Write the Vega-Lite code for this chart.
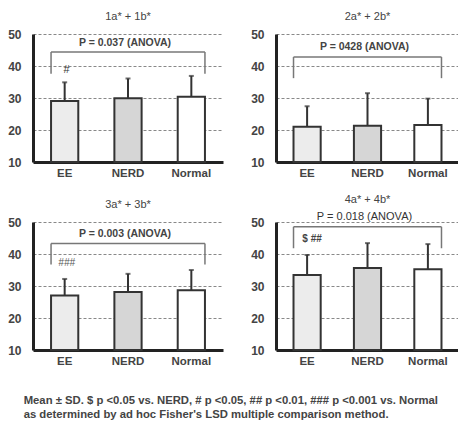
{
  "$schema": "https://vega.github.io/schema/vega-lite/v6.json",
  "padding": {"left": 7, "top": 11, "right": 0, "bottom": 0},
  "background": "white",
  "title": {
    "text": ["Mean ± SD.  $ p <0.05 vs. NERD, # p <0.05, ## p <0.01, ### p <0.001 vs. Normal", "as determined by ad hoc Fisher's LSD multiple comparison method."],
    "orient": "bottom", "anchor": "start", "fontSize": 11.3, "fontWeight": "bold", "font": "Liberation Sans", "color": "#444", "offset": 28, "dx": 16, "lineHeight": 14
  },
  "datasets": {
    "bars": [
      {"panel": 1, "group": "EE", "mean": 29.1, "upper": 34.9},
      {"panel": 1, "group": "NERD", "mean": 29.9, "upper": 36.1},
      {"panel": 1, "group": "Normal", "mean": 30.4, "upper": 36.9},
      {"panel": 2, "group": "EE", "mean": 21.0, "upper": 27.4},
      {"panel": 2, "group": "NERD", "mean": 21.3, "upper": 31.5},
      {"panel": 2, "group": "Normal", "mean": 21.6, "upper": 29.8},
      {"panel": 3, "group": "EE", "mean": 27.0, "upper": 32.2},
      {"panel": 3, "group": "NERD", "mean": 28.1, "upper": 33.8},
      {"panel": 3, "group": "Normal", "mean": 28.7, "upper": 35.0},
      {"panel": 4, "group": "EE", "mean": 33.4, "upper": 39.7},
      {"panel": 4, "group": "NERD", "mean": 35.6, "upper": 43.4},
      {"panel": 4, "group": "Normal", "mean": 35.2, "upper": 43.1}
    ],
    "brackets": [
      {"panel": 1, "left": "EE", "mid": "NERD", "right": "Normal", "top": 44.4, "bottom": 37.6, "label": "P = 0.037 (ANOVA)", "labelY": 47.2},
      {"panel": 2, "left": "EE", "mid": "NERD", "right": "Normal", "top": 42.8, "bottom": 36.2, "label": "P = 0428 (ANOVA)", "labelY": 45.9},
      {"panel": 3, "left": "EE", "mid": "NERD", "right": "Normal", "top": 43.3, "bottom": 36.7, "label": "P = 0.003 (ANOVA)", "labelY": 46.1},
      {"panel": 4, "left": "EE", "mid": "NERD", "right": "Normal", "top": 48.5, "bottom": 41.8, "label": "P = 0.018 (ANOVA)", "labelY": 51.6}
    ],
    "sig": [
      {"panel": 1, "group": "EE", "mark": "#", "y": 38.6},
      {"panel": 3, "group": "EE", "mark": "###", "y": 37.2},
      {"panel": 4, "group": "EE", "mark": "$ ##", "y": 44.7}
    ]
  },
  "spacing": 14,
  "vconcat": [
    {
      "spacing": 27,
      "hconcat": [
        {
          "width": 190, "height": 128,
          "title": "1a* + 1b*",
          "layer": [
            {"data": {"name": "bars"}, "transform": [{"filter": "datum.panel == 1"}],
             "mark": {"type": "bar", "stroke": "#333", "strokeWidth": 2},
             "encoding": {
               "x": {"field": "group", "type": "nominal", "sort": null, "scale": {"domain": ["EE", "NERD", "Normal"], "paddingInner": 0.57, "paddingOuter": 0.285}, "axis": {"title": null}},
               "y": {"field": "mean", "type": "quantitative", "scale": {"domain": [10, 50], "nice": false, "zero": false}, "axis": {"title": null}},
               "y2": {"datum": 10},
               "fill": {"field": "group", "type": "nominal", "scale": {"domain": ["EE", "NERD", "Normal"], "range": ["#ececec", "#d6d6d6", "#ffffff"]}, "legend": null}
             }},
            {"data": {"name": "bars"}, "transform": [{"filter": "datum.panel == 1"}],
             "mark": {"type": "rule", "color": "#333", "strokeWidth": 2},
             "encoding": {"x": {"field": "group", "type": "nominal"}, "y": {"field": "mean", "type": "quantitative"}, "y2": {"field": "upper"}}},
            {"data": {"name": "bars"}, "transform": [{"filter": "datum.panel == 1"}],
             "mark": {"type": "tick", "color": "#333", "thickness": 2, "size": 5, "orient": "horizontal"},
             "encoding": {"x": {"field": "group", "type": "nominal"}, "y": {"field": "upper", "type": "quantitative"}}},
            {"data": {"name": "brackets"}, "transform": [{"filter": "datum.panel == 1"}],
             "mark": {"type": "rule", "color": "#777", "strokeWidth": 1.5},
             "encoding": {"x": {"field": "left", "type": "nominal", "bandPosition": 0}, "x2": {"field": "right", "bandPosition": 1}, "y": {"field": "top", "type": "quantitative"}}},
            {"data": {"name": "brackets"}, "transform": [{"filter": "datum.panel == 1"}],
             "mark": {"type": "rule", "color": "#777", "strokeWidth": 1.5},
             "encoding": {"x": {"field": "left", "type": "nominal", "bandPosition": 0}, "y": {"field": "top", "type": "quantitative"}, "y2": {"field": "bottom"}}},
            {"data": {"name": "brackets"}, "transform": [{"filter": "datum.panel == 1"}],
             "mark": {"type": "rule", "color": "#777", "strokeWidth": 1.5},
             "encoding": {"x": {"field": "right", "type": "nominal", "bandPosition": 1}, "y": {"field": "top", "type": "quantitative"}, "y2": {"field": "bottom"}}},
            {"data": {"name": "brackets"}, "transform": [{"filter": "datum.panel == 1"}],
             "mark": {"type": "text", "font": "Liberation Sans", "fontWeight": "bold", "fontSize": 10.5, "color": "#444", "dx": -3},
             "encoding": {"x": {"field": "mid", "type": "nominal"}, "y": {"field": "labelY", "type": "quantitative"}, "text": {"field": "label"}}},
            {"data": {"name": "sig"}, "transform": [{"filter": "datum.panel == 1"}],
             "mark": {"type": "text", "font": "Liberation Sans", "fontSize": 11, "color": "#333", "dx": 2},
             "encoding": {"x": {"field": "group", "type": "nominal"}, "y": {"field": "y", "type": "quantitative"}, "text": {"field": "mark"}}}
          ]
        },
        {
          "width": 183, "height": 128,
          "title": "2a* + 2b*",
          "layer": [
            {"data": {"name": "bars"}, "transform": [{"filter": "datum.panel == 2"}],
             "mark": {"type": "bar", "stroke": "#333", "strokeWidth": 2},
             "encoding": {
               "x": {"field": "group", "type": "nominal", "sort": null, "scale": {"domain": ["EE", "NERD", "Normal"], "paddingInner": 0.55, "paddingOuter": 0.29}, "axis": {"title": null}},
               "y": {"field": "mean", "type": "quantitative", "scale": {"domain": [10, 50], "nice": false, "zero": false}, "axis": {"title": null}},
               "y2": {"datum": 10},
               "fill": {"field": "group", "type": "nominal", "scale": {"domain": ["EE", "NERD", "Normal"], "range": ["#ececec", "#d6d6d6", "#ffffff"]}, "legend": null}
             }},
            {"data": {"name": "bars"}, "transform": [{"filter": "datum.panel == 2"}],
             "mark": {"type": "rule", "color": "#333", "strokeWidth": 2},
             "encoding": {"x": {"field": "group", "type": "nominal"}, "y": {"field": "mean", "type": "quantitative"}, "y2": {"field": "upper"}}},
            {"data": {"name": "bars"}, "transform": [{"filter": "datum.panel == 2"}],
             "mark": {"type": "tick", "color": "#333", "thickness": 2, "size": 5, "orient": "horizontal"},
             "encoding": {"x": {"field": "group", "type": "nominal"}, "y": {"field": "upper", "type": "quantitative"}}},
            {"data": {"name": "brackets"}, "transform": [{"filter": "datum.panel == 2"}],
             "mark": {"type": "rule", "color": "#777", "strokeWidth": 1.5},
             "encoding": {"x": {"field": "left", "type": "nominal", "bandPosition": 0}, "x2": {"field": "right", "bandPosition": 1}, "y": {"field": "top", "type": "quantitative"}}},
            {"data": {"name": "brackets"}, "transform": [{"filter": "datum.panel == 2"}],
             "mark": {"type": "rule", "color": "#777", "strokeWidth": 1.5},
             "encoding": {"x": {"field": "left", "type": "nominal", "bandPosition": 0}, "y": {"field": "top", "type": "quantitative"}, "y2": {"field": "bottom"}}},
            {"data": {"name": "brackets"}, "transform": [{"filter": "datum.panel == 2"}],
             "mark": {"type": "rule", "color": "#777", "strokeWidth": 1.5},
             "encoding": {"x": {"field": "right", "type": "nominal", "bandPosition": 1}, "y": {"field": "top", "type": "quantitative"}, "y2": {"field": "bottom"}}},
            {"data": {"name": "brackets"}, "transform": [{"filter": "datum.panel == 2"}],
             "mark": {"type": "text", "font": "Liberation Sans", "fontWeight": "bold", "fontSize": 10.5, "color": "#444", "dx": -3},
             "encoding": {"x": {"field": "mid", "type": "nominal"}, "y": {"field": "labelY", "type": "quantitative"}, "text": {"field": "label"}}}
          ]
        }
      ]
    },
    {
      "spacing": 27,
      "hconcat": [
        {
          "width": 190, "height": 128,
          "title": "3a* + 3b*",
          "layer": [
            {"data": {"name": "bars"}, "transform": [{"filter": "datum.panel == 3"}],
             "mark": {"type": "bar", "stroke": "#333", "strokeWidth": 2},
             "encoding": {
               "x": {"field": "group", "type": "nominal", "sort": null, "scale": {"domain": ["EE", "NERD", "Normal"], "paddingInner": 0.57, "paddingOuter": 0.285}, "axis": {"title": null}},
               "y": {"field": "mean", "type": "quantitative", "scale": {"domain": [10, 50], "nice": false, "zero": false}, "axis": {"title": null}},
               "y2": {"datum": 10},
               "fill": {"field": "group", "type": "nominal", "scale": {"domain": ["EE", "NERD", "Normal"], "range": ["#ececec", "#d6d6d6", "#ffffff"]}, "legend": null}
             }},
            {"data": {"name": "bars"}, "transform": [{"filter": "datum.panel == 3"}],
             "mark": {"type": "rule", "color": "#333", "strokeWidth": 2},
             "encoding": {"x": {"field": "group", "type": "nominal"}, "y": {"field": "mean", "type": "quantitative"}, "y2": {"field": "upper"}}},
            {"data": {"name": "bars"}, "transform": [{"filter": "datum.panel == 3"}],
             "mark": {"type": "tick", "color": "#333", "thickness": 2, "size": 5, "orient": "horizontal"},
             "encoding": {"x": {"field": "group", "type": "nominal"}, "y": {"field": "upper", "type": "quantitative"}}},
            {"data": {"name": "brackets"}, "transform": [{"filter": "datum.panel == 3"}],
             "mark": {"type": "rule", "color": "#777", "strokeWidth": 1.5},
             "encoding": {"x": {"field": "left", "type": "nominal", "bandPosition": 0}, "x2": {"field": "right", "bandPosition": 1}, "y": {"field": "top", "type": "quantitative"}}},
            {"data": {"name": "brackets"}, "transform": [{"filter": "datum.panel == 3"}],
             "mark": {"type": "rule", "color": "#777", "strokeWidth": 1.5},
             "encoding": {"x": {"field": "left", "type": "nominal", "bandPosition": 0}, "y": {"field": "top", "type": "quantitative"}, "y2": {"field": "bottom"}}},
            {"data": {"name": "brackets"}, "transform": [{"filter": "datum.panel == 3"}],
             "mark": {"type": "rule", "color": "#777", "strokeWidth": 1.5},
             "encoding": {"x": {"field": "right", "type": "nominal", "bandPosition": 1}, "y": {"field": "top", "type": "quantitative"}, "y2": {"field": "bottom"}}},
            {"data": {"name": "brackets"}, "transform": [{"filter": "datum.panel == 3"}],
             "mark": {"type": "text", "font": "Liberation Sans", "fontWeight": "bold", "fontSize": 10.5, "color": "#444", "dx": -3},
             "encoding": {"x": {"field": "mid", "type": "nominal"}, "y": {"field": "labelY", "type": "quantitative"}, "text": {"field": "label"}}},
            {"data": {"name": "sig"}, "transform": [{"filter": "datum.panel == 3"}],
             "mark": {"type": "text", "font": "Liberation Sans", "fontSize": 10, "fontStyle": "italic", "color": "#555", "dx": 2},
             "encoding": {"x": {"field": "group", "type": "nominal"}, "y": {"field": "y", "type": "quantitative"}, "text": {"field": "mark"}}}
          ]
        },
        {
          "width": 183, "height": 128,
          "title": "4a* + 4b*",
          "layer": [
            {"data": {"name": "bars"}, "transform": [{"filter": "datum.panel == 4"}],
             "mark": {"type": "bar", "stroke": "#333", "strokeWidth": 2},
             "encoding": {
               "x": {"field": "group", "type": "nominal", "sort": null, "scale": {"domain": ["EE", "NERD", "Normal"], "paddingInner": 0.55, "paddingOuter": 0.29}, "axis": {"title": null}},
               "y": {"field": "mean", "type": "quantitative", "scale": {"domain": [10, 50], "nice": false, "zero": false}, "axis": {"title": null}},
               "y2": {"datum": 10},
               "fill": {"field": "group", "type": "nominal", "scale": {"domain": ["EE", "NERD", "Normal"], "range": ["#ececec", "#d6d6d6", "#ffffff"]}, "legend": null}
             }},
            {"data": {"name": "bars"}, "transform": [{"filter": "datum.panel == 4"}],
             "mark": {"type": "rule", "color": "#333", "strokeWidth": 2},
             "encoding": {"x": {"field": "group", "type": "nominal"}, "y": {"field": "mean", "type": "quantitative"}, "y2": {"field": "upper"}}},
            {"data": {"name": "bars"}, "transform": [{"filter": "datum.panel == 4"}],
             "mark": {"type": "tick", "color": "#333", "thickness": 2, "size": 5, "orient": "horizontal"},
             "encoding": {"x": {"field": "group", "type": "nominal"}, "y": {"field": "upper", "type": "quantitative"}}},
            {"data": {"name": "brackets"}, "transform": [{"filter": "datum.panel == 4"}],
             "mark": {"type": "rule", "color": "#777", "strokeWidth": 1.5},
             "encoding": {"x": {"field": "left", "type": "nominal", "bandPosition": 0}, "x2": {"field": "right", "bandPosition": 1}, "y": {"field": "top", "type": "quantitative"}}},
            {"data": {"name": "brackets"}, "transform": [{"filter": "datum.panel == 4"}],
             "mark": {"type": "rule", "color": "#777", "strokeWidth": 1.5},
             "encoding": {"x": {"field": "left", "type": "nominal", "bandPosition": 0}, "y": {"field": "top", "type": "quantitative"}, "y2": {"field": "bottom"}}},
            {"data": {"name": "brackets"}, "transform": [{"filter": "datum.panel == 4"}],
             "mark": {"type": "rule", "color": "#777", "strokeWidth": 1.5},
             "encoding": {"x": {"field": "right", "type": "nominal", "bandPosition": 1}, "y": {"field": "top", "type": "quantitative"}, "y2": {"field": "bottom"}}},
            {"data": {"name": "brackets"}, "transform": [{"filter": "datum.panel == 4"}],
             "mark": {"type": "text", "font": "Liberation Sans", "fontWeight": "normal", "fontSize": 11, "color": "#333", "dx": -3},
             "encoding": {"x": {"field": "mid", "type": "nominal"}, "y": {"field": "labelY", "type": "quantitative"}, "text": {"field": "label"}}},
            {"data": {"name": "sig"}, "transform": [{"filter": "datum.panel == 4"}],
             "mark": {"type": "text", "font": "Liberation Sans", "fontWeight": "bold", "fontSize": 10, "color": "#444", "dx": 5},
             "encoding": {"x": {"field": "group", "type": "nominal"}, "y": {"field": "y", "type": "quantitative"}, "text": {"field": "mark"}}}
          ]
        }
      ]
    }
  ],
  "config": {
    "view": {"stroke": null},
    "font": "Liberation Sans",
    "title": {"font": "Liberation Sans", "fontSize": 11, "fontWeight": "normal", "color": "#444", "offset": 6},
    "axisY": {"values": [10, 20, 30, 40, 50], "grid": true, "gridDash": [3, 2], "gridColor": "#888", "gridWidth": 1, "domainColor": "#222", "domainWidth": 3, "ticks": false, "tickSize": 0, "labelPadding": 12, "labelFont": "Liberation Sans", "labelFontWeight": "bold", "labelFontSize": 12, "labelColor": "#444"},
    "axisX": {"domainColor": "#222", "domainWidth": 3, "ticks": false, "tickSize": 0, "labelPadding": 5, "labelAngle": 0, "labelFont": "Liberation Sans", "labelFontWeight": "bold", "labelFontSize": 11.5, "labelColor": "#444", "grid": false}
  }
}
